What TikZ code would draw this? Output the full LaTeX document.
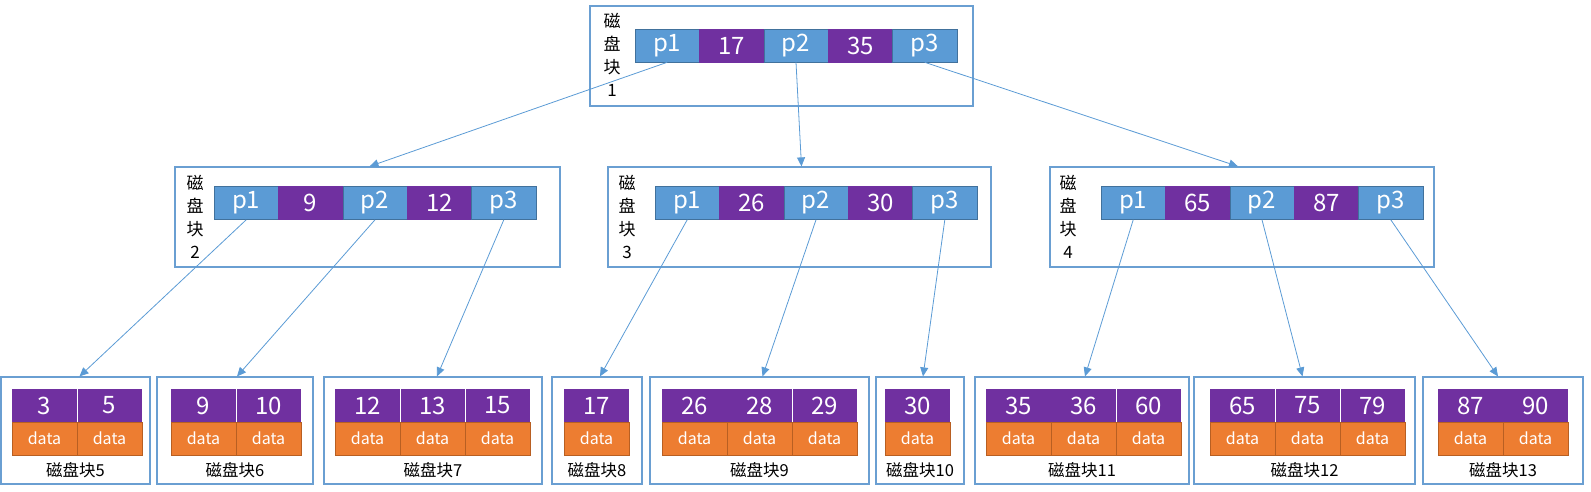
\documentclass[tikz,border=0pt]{standalone}
\usepackage{fontspec}
\setmainfont{Noto Sans CJK SC}
\usetikzlibrary{arrows.meta}
\definecolor{cblue}{HTML}{5B9BD5}
\definecolor{cblueb}{HTML}{41719C}
\definecolor{cpurp}{HTML}{7030A0}
\definecolor{corng}{HTML}{ED7D31}
\definecolor{corngb}{HTML}{B85F22}
\definecolor{cbox}{HTML}{6A9FD2}
\definecolor{carrow}{HTML}{5B9BD5}
\tikzset{
  box/.style={draw=cbox, line width=1.2pt, inner sep=0pt, fill=none},
  bcell/.style={fill=cblue, draw=cblueb, line width=0.6pt, minimum width=64.4pt, minimum height=33pt, inner sep=0pt, text=white, font=\fontsize{24}{24}\selectfont},
  pcell/.style={fill=cpurp, draw=cpurp, line width=0.6pt, minimum width=64.4pt, minimum height=33pt, inner sep=0pt, text=white, font=\fontsize{24}{24}\selectfont},
  lpcell/.style={fill=cpurp, draw=none, minimum width=65pt, minimum height=33pt, inner sep=0pt, text=white, font=\fontsize{24}{24}\selectfont},
  ocell/.style={fill=corng, draw=corngb, line width=0.6pt, minimum width=65pt, minimum height=33pt, inner sep=0pt, text=white, font=\fontsize{16}{16}\selectfont},
  vlbl/.style={align=center, inner sep=0pt, font=\fontsize{17}{23}\selectfont},
  lbl/.style={inner sep=0pt, font=\fontsize{16.5}{16.5}\selectfont},
  arr/.style={draw=carrow, line width=0.8pt, -{Triangle[length=9pt,width=8pt]}},
  sepline/.style={draw=white, line width=0.8pt}
}
% #1 id, #2 box left, #3 box right, #4 first cell x, #5 values
\newcommand\leafblock[5]{%
  \node[box, minimum width={#3-#2}, minimum height=107pt] (L#1) at ({(#2+#3)/2},430.5) {};
  \foreach \v [count=\i] in {#5} {%
    \node[lpcell] (L#1k\i) at ({#4+65*\i-32.5},405.5) {\v};
    \node[ocell] (L#1d\i) at ({#4+65*\i-32.5},438.5) {data};
  }
  \node[lbl] (L#1t) at ({(#2+#3)/2},470) {磁盘块#1};
}
\begin{document}
\begin{tikzpicture}[x=1pt,y=-1pt]
\useasboundingbox (0,0) rectangle (1591,491);
% top block
\node[box, minimum width=383pt, minimum height=100pt] (B1) at (781.5,56) {};
\node[vlbl] (B1t) at (612,55) {磁\\盘\\块\\1};
\node[bcell] (B1p1) at (667.2,45.5) {p1};
\node[pcell] (B1k1) at (731.6,45.5) {17};
\node[bcell] (B1p2) at (796,45.5) {p2};
\node[pcell] (B1k2) at (860.4,45.5) {35};
\node[bcell] (B1p3) at (924.8,45.5) {p3};
% block 2
\node[box, minimum width=385pt, minimum height=100pt] (B2) at (367.5,217) {};
\node[vlbl] (B2t) at (195,217) {磁\\盘\\块\\2};
\node[bcell] (B2p1) at (246.2,203) {p1};
\node[pcell] (B2k1) at (310.6,203) {9};
\node[bcell] (B2p2) at (375,203) {p2};
\node[pcell] (B2k2) at (439.4,203) {12};
\node[bcell] (B2p3) at (503.8,203) {p3};
% block 3
\node[box, minimum width=383pt, minimum height=100pt] (B3) at (799.5,217) {};
\node[vlbl] (B3t) at (627,217) {磁\\盘\\块\\3};
\node[bcell] (B3p1) at (687.2,203) {p1};
\node[pcell] (B3k1) at (751.6,203) {26};
\node[bcell] (B3p2) at (816,203) {p2};
\node[pcell] (B3k2) at (880.4,203) {30};
\node[bcell] (B3p3) at (944.8,203) {p3};
% block 4
\node[box, minimum width=384pt, minimum height=100pt] (B4) at (1242,217) {};
\node[vlbl] (B4t) at (1068,217) {磁\\盘\\块\\4};
\node[bcell] (B4p1) at (1133.2,203) {p1};
\node[pcell] (B4k1) at (1197.6,203) {65};
\node[bcell] (B4p2) at (1262,203) {p2};
\node[pcell] (B4k2) at (1326.4,203) {87};
\node[bcell] (B4p3) at (1390.8,203) {p3};
% leaves
\leafblock{5}{1}{150}{12}{3,5}
\leafblock{6}{157}{313}{171}{9,10}
\leafblock{7}{324}{542}{335}{12,13,15}
\leafblock{8}{552}{642}{564}{17}
\leafblock{9}{650}{869}{662}{26,28,29}
\leafblock{10}{876}{964}{885}{30}
\leafblock{11}{975}{1189}{986}{35,36,60}
\leafblock{12}{1194}{1415}{1210}{65,75,79}
\leafblock{13}{1423}{1583}{1438}{87,90}
% separators in purple rows
\foreach \a in {5k1,6k1,7k1,7k2,9k2,11k2,12k1,12k2} {
  \draw[sepline] (L\a.north east) -- (L\a.south east);
}
% arrows
\draw[arr] (B1p1.south) -- ([xshift=2pt]B2.north);
\draw[arr] (B1p2.south) -- ([xshift=2pt]B3.north);
\draw[arr] (B1p3.south) -- ([xshift=-4pt]B4.north);
\draw[arr] (B2p1.south) -- ([xshift=4pt]L5.north);
\draw[arr] (B2p2.south) -- ([xshift=2pt]L6.north);
\draw[arr] (B2p3.south) -- ([xshift=4pt]L7.north);
\draw[arr] (B3p1.south) -- ([xshift=3pt]L8.north);
\draw[arr] (B3p2.south) -- ([xshift=3pt]L9.north);
\draw[arr] (B3p3.south) -- ([xshift=3pt]L10.north);
\draw[arr] (B4p1.south) -- ([xshift=3pt]L11.north);
\draw[arr] (B4p2.south) -- ([xshift=-2pt]L12.north);
\draw[arr] (B4p3.south) -- ([xshift=-5pt]L13.north);
\end{tikzpicture}
\end{document}
